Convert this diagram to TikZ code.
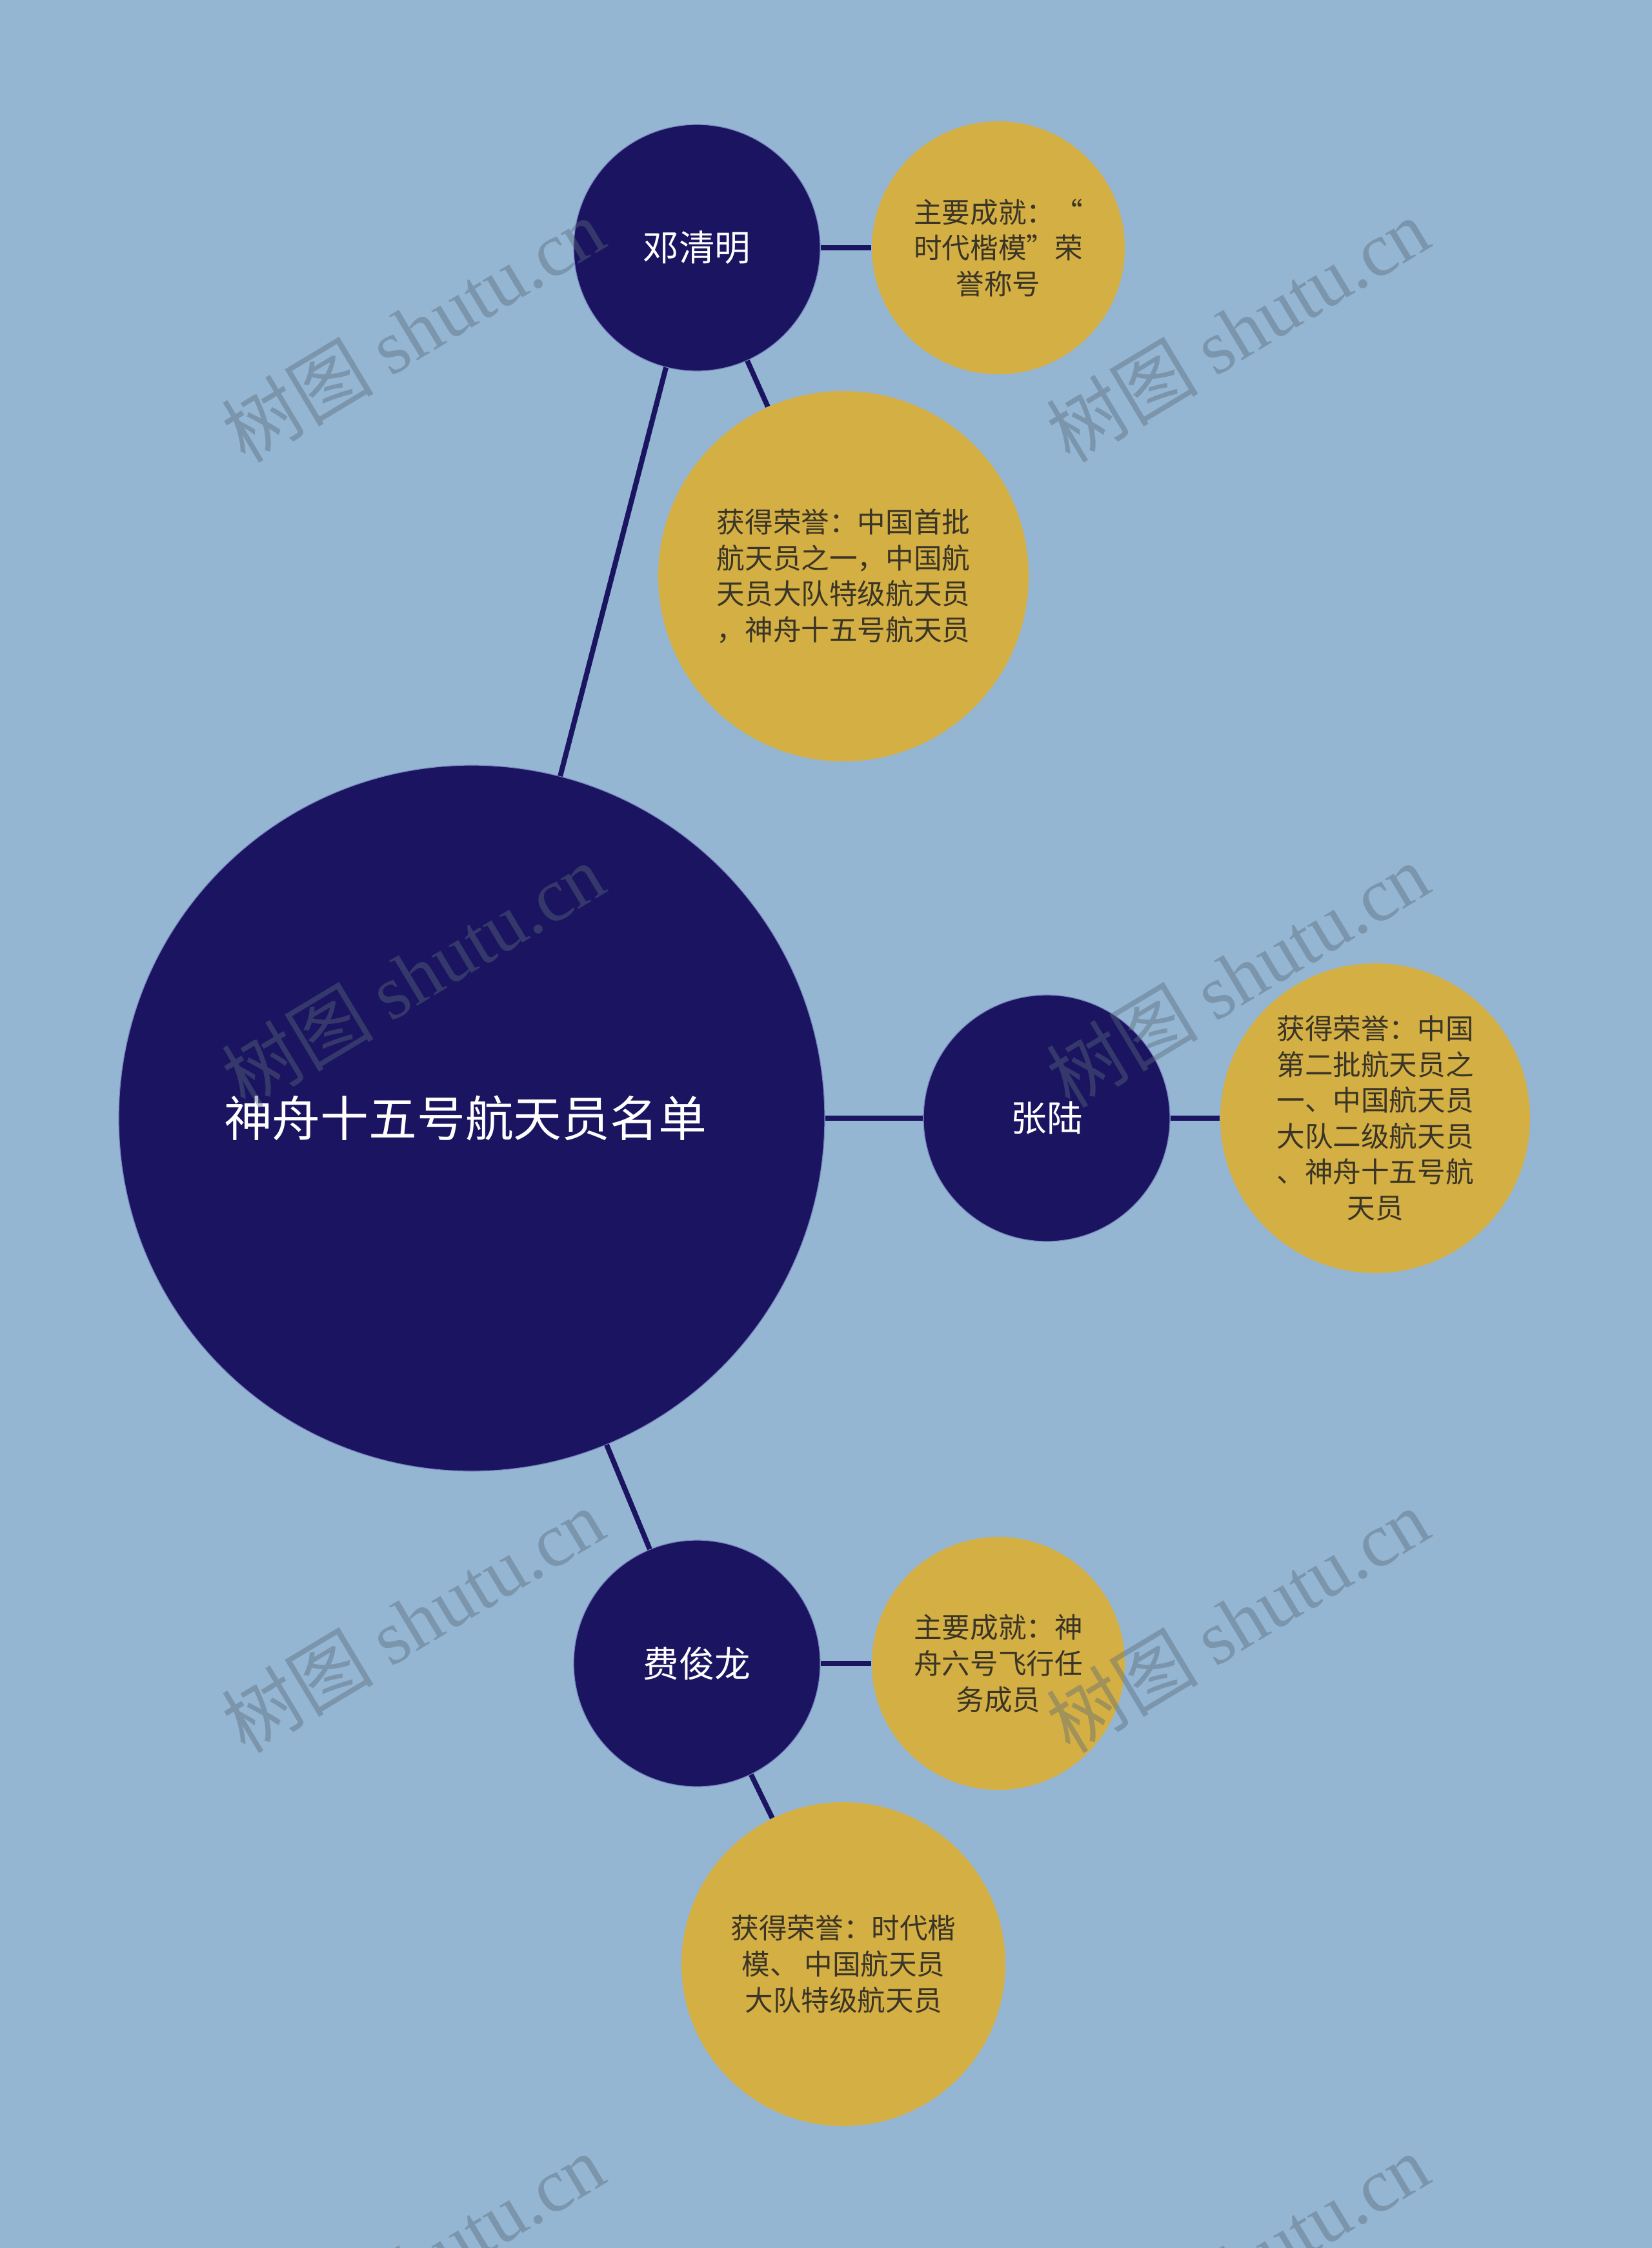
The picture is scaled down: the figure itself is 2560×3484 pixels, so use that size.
\documentclass[tikz,border=0pt]{standalone}
\usepackage{fontspec}
\setmainfont{Noto Sans CJK SC}
\newfontfamily\wmser{Liberation Serif}
\newfontfamily\wmcjk{Noto Sans CJK SC}
\definecolor{bg}{HTML}{94B6D3}
\definecolor{navy}{HTML}{1B1461}
\definecolor{rim}{HTML}{7A86C0}
\definecolor{gold}{HTML}{D4AF43}
\definecolor{ink}{HTML}{3A3526}
\definecolor{wm}{HTML}{5A6A78}
\begin{document}
\begin{tikzpicture}[x=0.25pt,y=-0.25pt,
  hub/.style={circle, fill=navy, draw=rim, line width=0.3pt, inner sep=0pt, text=white, align=center},
  rootnode/.style={hub, minimum size=273.5pt, font=\fontsize{18.7pt}{23pt}\selectfont},
  person/.style={hub, minimum size=95.5pt, font=\fontsize{13.9pt}{17pt}\selectfont},
  info/.style={circle, fill=gold, inner sep=0pt, text=ink, align=center, font=\fontsize{10.9pt}{13.9pt}\selectfont},
  conn/.style={draw=navy, line width=2pt},
  wmark/.style={rotate=31, text=wm, text opacity=0.42, font=\fontsize{29.5pt}{31pt}\selectfont}
]
\fill[bg] (0,0) rectangle (2560,3484);
\useasboundingbox (0,0) rectangle (2560,3484);

\node[rootnode] (root) at (731,1733) {\hspace*{-5pt}神舟十五号航天员名单};

\node[person] (deng) at (1080,384) {邓清明};
\node[info, minimum size=98pt] (deng1) at (1547,384) {主要成就：“\\时代楷模”荣\\誉称号};
\node[info, minimum size=143.5pt] (deng2) at (1307,893) {获得荣誉：中国首批\\航天员之一，中国航\\天员大队特级航天员\\，神舟十五号航天员};

\node[person] (zhang) at (1622,1733) {张陆};
\node[info, minimum size=120pt] (zhang1) at (2131,1733) {获得荣誉：中国\\第二批航天员之\\一、中国航天员\\大队二级航天员\\、神舟十五号航\\天员};

\node[person] (fei) at (1080,2578) {费俊龙};
\node[info, minimum size=98pt] (fei1) at (1547,2578) {主要成就：神\\舟六号飞行任\\务成员};
\node[info, minimum size=125.5pt] (fei2) at (1307,3044) {获得荣誉：时代楷\\模、 中国航天员\\大队特级航天员};

\draw[conn] (root) -- (deng);
\draw[conn] (root) -- (zhang);
\draw[conn] (root) -- (fei);
\draw[conn] (deng) -- (deng1);
\draw[conn] (deng) -- (deng2);
\draw[conn] (zhang) -- (zhang1);
\draw[conn] (fei) -- (fei1);
\draw[conn] (fei) -- (fei2);

\foreach \wx/\wy [count=\i] in {640/511, 1918/511, 640/1511, 1918/1511, 640/2511, 1918/2511, 640/3511, 1918/3511}
  \node[wmark] (wm\i) at (\wx,\wy) {\wmcjk 树图 \wmser shutu.cn};
\end{tikzpicture}
\end{document}
